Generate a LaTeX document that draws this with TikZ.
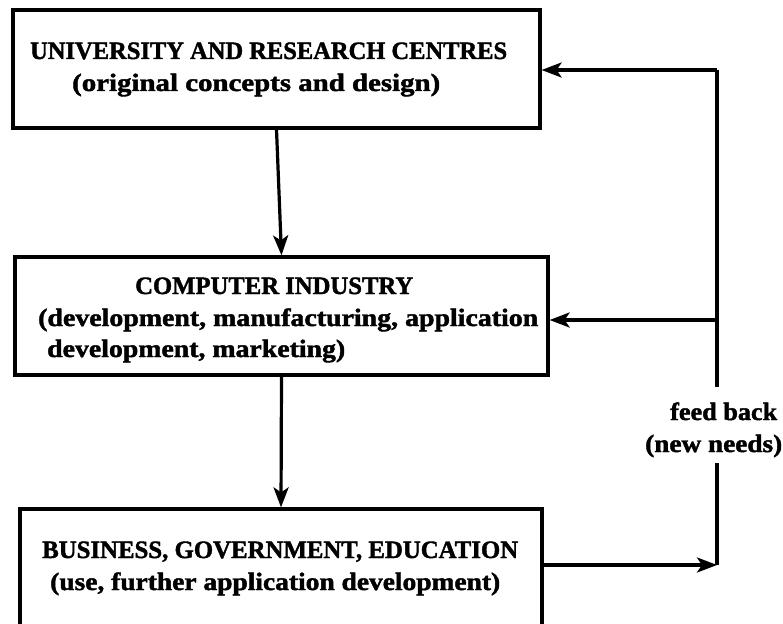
\documentclass[tikz,border=0pt]{standalone}
\usepackage{fontspec}
\setmainfont{Liberation Serif}[BoldFeatures={FakeBold=1.6}]
\usetikzlibrary{arrows.meta}
% one line of heavy text, stretched to a given width
\newcommand{\stretchline}[2]{\resizebox{#1}{\height}{#2}}
\begin{document}
\begin{tikzpicture}[x=1pt,y=-1pt,
  blockbox/.style={draw, line width=3.2pt, inner sep=0pt},
  txt/.style={font=\fontsize{25}{28}\selectfont\bfseries, inner sep=0pt, anchor=base west},
  flow/.style={line width=3.2pt, -{Stealth[length=20pt,width=15pt,inset=5pt]}},
  plain/.style={line width=3.2pt}]
\useasboundingbox (0,0) rectangle (783,623);
\clip (0,0) rectangle (783,623);

% the three blocks
\node (uni) [blockbox, minimum width=527pt, minimum height=118pt] at (276.5,69) {};
\node (ind) [blockbox, minimum width=533pt, minimum height=118pt] at (281.5,316) {};
\node (biz) [blockbox, minimum width=522pt, minimum height=131pt] at (281,574.5) {};

% block texts
\node (uni1) [txt] at (30,59) {\stretchline{477pt}{UNIVERSITY AND RESEARCH CENTRES}};
\node (uni2) [txt] at (72,91) {\stretchline{368pt}{(original concepts and design)}};
\node (ind1) [txt] at (135,294) {\stretchline{278pt}{COMPUTER INDUSTRY}};
\node (ind2) [txt] at (38,326) {\stretchline{500pt}{(development, manufacturing, application}};
\node (ind3) [txt] at (47,357) {\stretchline{298pt}{development, marketing)}};
\node (biz1) [txt] at (42,558) {\stretchline{476pt}{BUSINESS, GOVERNMENT, EDUCATION}};
\node (biz2) [txt] at (50,590) {\stretchline{450pt}{(use, further application development)}};

% main flow downwards
\draw[flow] (uni.south) -- (ind.north);
\draw[flow] (ind.south) -- (biz.north);

% feedback loop
\coordinate (fbtop) at (717,70);
\coordinate (fbmid) at (717,320);
\coordinate (fbbot) at (717,565);
\coordinate (gaptop) at (717,387);
\coordinate (gapbot) at (717,463);
\node (fb1) [txt] at (670,420) {\stretchline{107pt}{feed back}};
\node (fb2) [txt] at (645,452) {\stretchline{137pt}{(new needs)}};

\draw[flow] (biz.east |- fbbot) -- (fbbot);
\draw[plain] (fbbot) -- (gapbot);
\draw[plain] (gaptop) -- (fbtop);
\draw[flow] (fbtop) -- (uni.east |- fbtop);
\draw[flow] (fbmid) -- (ind.east |- fbmid);
\end{tikzpicture}
\end{document}
